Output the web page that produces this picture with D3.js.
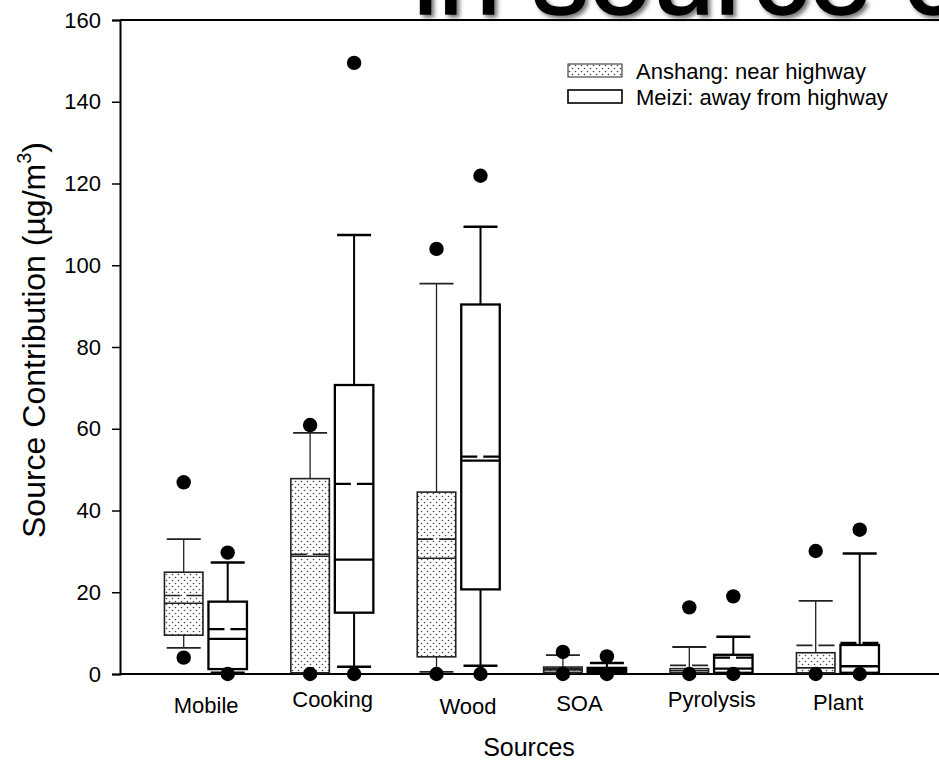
<!DOCTYPE html>
<html>
<head>
<meta charset="utf-8">
<script src="https://cdn.jsdelivr.net/npm/d3@7"></script>
<style>
  body { margin: 0; background: #fff; }
  svg { display: block; font-family: "Liberation Sans", Arial, sans-serif; }
</style>
</head>
<body>
<div id="chart"></div>
<script>
// Source contribution box plots, Anshang vs Meizi
const categories = ['Mobile', 'Cooking', 'Wood', 'SOA', 'Pyrolysis', 'Plant'];
const seriesNames = ['Anshang: near highway', 'Meizi: away from highway'];
const yTicks = [0, 20, 40, 60, 80, 100, 120, 140, 160];

const anshangLow = [6.4, 0.3, 0.5, 0.3, 0.2, 0.2];
const anshangQ1 = [9.5, 0.3, 4.2, 0.4, 0.3, 0.3];
const anshangMedian = [17.3, 28.8, 28.3, 1.0, 0.8, 1.5];
const anshangMean = [19.2, 29.3, 33.0, 1.3, 2.1, 7.0];
const anshangQ3 = [24.9, 47.8, 44.5, 1.7, 1.3, 5.2];
const anshangHigh = [33.0, 59.0, 95.5, 4.6, 6.6, 17.9];
const anshangOutliers = [[4.0, 46.9], [0, 60.9], [0, 104.0], [0, 5.4], [0, 16.3], [0, 30.1]];

const meiziLow = [0.3, 1.8, 2.0, 0.2, 0.2, 0.2];
const meiziQ1 = [1.2, 15.0, 20.7, 0.3, 0.3, 0.3];
const meiziMedian = [8.6, 28.0, 52.2, 0.7, 1.3, 1.9];
const meiziMean = [11.0, 46.5, 53.2, 1.1, 4.0, 7.6];
const meiziQ3 = [17.7, 70.7, 90.4, 1.5, 4.7, 7.1];
const meiziHigh = [27.3, 107.4, 109.4, 2.7, 9.1, 29.5];
const meiziOutliers = [[0, 29.7], [0, 149.5], [0, 121.9], [0, 4.3], [0, 19.0], [0, 35.3]];

const width = 939, height = 763;
const margin = { left: 120, right: 945, top: 20, bottom: 674 };

const svg = d3.select('#chart').append('svg')
  .attr('width', width)
  .attr('height', height);

const defs = svg.append('defs');
const pat = defs.append('pattern')
  .attr('id', 'dots')
  .attr('patternUnits', 'userSpaceOnUse')
  .attr('width', 6).attr('height', 6);
pat.append('rect').attr('width', 6).attr('height', 6).attr('fill', '#fff');
pat.append('circle').attr('cx', 1.5).attr('cy', 1.5).attr('r', 0.8).attr('fill', '#444');
pat.append('circle').attr('cx', 4.5).attr('cy', 4.5).attr('r', 0.8).attr('fill', '#444');

const shadow = defs.append('filter').attr('id', 'shadow')
  .attr('x', '-10%').attr('y', '-10%').attr('width', '130%').attr('height', '130%');
shadow.append('feDropShadow')
  .attr('dx', 3).attr('dy', 3).attr('stdDeviation', 2)
  .attr('flood-color', '#000').attr('flood-opacity', 0.55);

// cropped title at the very top (the source image cuts it off)
svg.append('text')
  .attr('x', 413).attr('y', 14)
  .attr('font-size', 113)
  .attr('stroke', '#000').attr('stroke-width', 1.5)
  .attr('filter', 'url(#shadow)')
  .text('in source c');

const x = d3.scalePoint().domain(categories).range([205.7, 837.7]);
const offset = d3.scalePoint().domain(seriesNames).range([-22, 22]);
const y = d3.scaleLinear().domain([0, 160]).range([margin.bottom, margin.top]);

const boxW = 38.5, capW = 34;

const series = [
  { name: seriesNames[0], low: anshangLow, q1: anshangQ1, med: anshangMedian, mean: anshangMean,
    q3: anshangQ3, high: anshangHigh, out: anshangOutliers, fill: 'url(#dots)', sw: 1.3, stroke: '#222' },
  { name: seriesNames[1], low: meiziLow, q1: meiziQ1, med: meiziMedian, mean: meiziMean,
    q3: meiziQ3, high: meiziHigh, out: meiziOutliers, fill: '#fff', sw: 2, stroke: '#000' }
];

// frame line on top
svg.append('line').attr('x1', margin.left).attr('x2', margin.right)
  .attr('y1', margin.top).attr('y2', margin.top)
  .attr('stroke', '#000').attr('stroke-width', 2);

// y axis
const yAxis = svg.append('g')
  .attr('transform', `translate(${margin.left},0)`)
  .call(d3.axisLeft(y).tickValues(yTicks).tickSize(8).tickPadding(11));
yAxis.select('.domain').attr('stroke-width', 2);
yAxis.selectAll('.tick line').attr('stroke-width', 1.5);
yAxis.selectAll('.tick text').attr('font-size', 22).attr('fill', '#000')
  .attr('font-family', '"Liberation Sans", Arial, sans-serif');

// x axis labels (positions in the source were set by hand, small shifts)
const labelShift = [[0, 3], [0, -3], [9, 4], [-6, 1], [0, -3], [0, 0]];
const xAxis = svg.append('g')
  .attr('transform', `translate(0,${margin.bottom})`)
  .call(d3.axisBottom(x).tickSize(0).tickPadding(20));
xAxis.select('.domain').remove();
xAxis.selectAll('.tick text')
  .attr('font-size', 22).attr('fill', '#000')
  .attr('font-family', '"Liberation Sans", Arial, sans-serif')
  .attr('dx', (d, i) => labelShift[i][0])
  .attr('dy', (d, i) => (0.71 * 22 + labelShift[i][1]) + 'px');

svg.append('line').attr('x1', margin.left).attr('x2', margin.right)
  .attr('y1', margin.bottom).attr('y2', margin.bottom)
  .attr('stroke', '#000').attr('stroke-width', 2);

// boxes
series.forEach(s => {
  const g = svg.append('g');
  const items = categories.map((c, i) => ({
    cx: x(c) + offset(s.name), low: s.low[i], q1: s.q1[i], med: s.med[i], mean: s.mean[i],
    q3: s.q3[i], high: s.high[i], out: s.out[i]
  }));
  const grp = g.selectAll('g.box').data(items).enter().append('g').attr('class', 'box');

  grp.append('line')
    .attr('x1', d => d.cx).attr('x2', d => d.cx)
    .attr('y1', d => y(d.high)).attr('y2', d => y(d.low))
    .attr('stroke', s.stroke).attr('stroke-width', s.sw);
  grp.append('line')
    .attr('x1', d => d.cx - capW / 2).attr('x2', d => d.cx + capW / 2)
    .attr('y1', d => y(d.high)).attr('y2', d => y(d.high))
    .attr('stroke', s.stroke).attr('stroke-width', s.sw + 0.5);
  grp.append('line')
    .attr('x1', d => d.cx - capW / 2).attr('x2', d => d.cx + capW / 2)
    .attr('y1', d => y(d.low)).attr('y2', d => y(d.low))
    .attr('stroke', s.stroke).attr('stroke-width', s.sw + 0.5);
  grp.append('rect')
    .attr('x', d => d.cx - boxW / 2).attr('width', boxW)
    .attr('y', d => y(d.q3)).attr('height', d => y(d.q1) - y(d.q3))
    .attr('fill', s.fill).attr('stroke', s.stroke).attr('stroke-width', s.sw + 0.3);
  grp.append('line')
    .attr('x1', d => d.cx - boxW / 2).attr('x2', d => d.cx + boxW / 2)
    .attr('y1', d => y(d.med)).attr('y2', d => y(d.med))
    .attr('stroke', s.stroke).attr('stroke-width', s.sw + 0.3);
  grp.append('line')
    .attr('x1', d => d.cx - boxW / 2).attr('x2', d => d.cx + boxW / 2)
    .attr('y1', d => y(d.mean)).attr('y2', d => y(d.mean))
    .attr('stroke', s.stroke).attr('stroke-width', s.sw + 0.3)
    .attr('stroke-dasharray', '16,6');
  grp.selectAll('circle').data(d => d.out.map(v => ({ cx: d.cx, v }))).enter()
    .append('circle')
    .attr('cx', d => d.cx).attr('cy', d => y(d.v)).attr('r', 7.2)
    .attr('fill', '#000');
});

// legend
const legend = svg.append('g').attr('transform', 'translate(568,64)');
series.forEach((s, i) => {
  const row = legend.append('g').attr('transform', `translate(0,${i * 26})`);
  row.append('rect').attr('width', 54).attr('height', 13)
    .attr('fill', s.fill).attr('stroke', s.stroke).attr('stroke-width', i ? 1.6 : 1);
  row.append('text').attr('x', 68).attr('y', 14.5)
    .attr('font-size', 22).text(s.name);
});

// axis titles
svg.append('text')
  .attr('x', 529).attr('y', 756)
  .attr('text-anchor', 'middle').attr('font-size', 25)
  .text('Sources');

const yt = svg.append('text')
  .attr('transform', 'translate(45,340) rotate(-90)')
  .attr('text-anchor', 'middle').attr('font-size', 32);
yt.append('tspan').text('Source Contribution (\u00b5g/m');
yt.append('tspan').attr('font-size', 20).attr('dy', -14).text('3');
yt.append('tspan').attr('dy', 14).text(')');
</script>
</body>
</html>
